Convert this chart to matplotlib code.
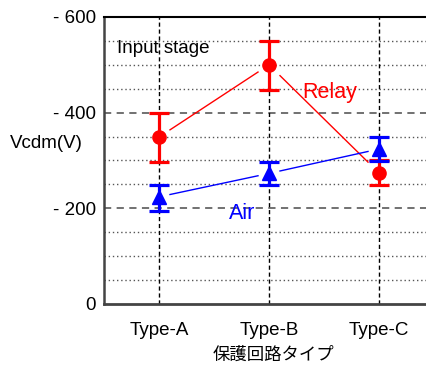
import matplotlib
matplotlib.use("Agg")
import matplotlib.pyplot as plt
import numpy as np

categories = ["Type-A", "Type-B", "Type-C"]
relay_vals = [349, 500, 274]
relay_lo = [297, 447, 249]
relay_hi = [400, 550, 300]
air_vals = [224, 273, 324]
air_lo = [195, 248, 299]
air_hi = [249, 297, 349]
ytick_vals = [0, 200, 400, 600]
ytick_labels = ["0", "- 200", "- 400", "- 600"]

plt.rcParams['font.family'] = ['Liberation Sans', 'DejaVu Sans']

fig = plt.figure(figsize=(4.27, 3.65), dpi=100)
ax = fig.add_axes([104/427, 61/365, 330/427, 287/365])

x = np.arange(len(categories))
ax.set_xlim(-0.5, 2.5)
ax.set_ylim(0, 600)

# grid
for yv in np.arange(50, 600, 50):
    if yv % 200 == 0:
        ax.axhline(yv, color='#666666', lw=1.3, ls=(0, (4, 3)), zorder=1)
    else:
        ax.axhline(yv, color='#555555', lw=1.0, ls=(0, (1, 2)), zorder=1)
for xv in x:
    ax.axvline(xv, color='black', lw=1.0, ls=(0, (3, 2)), zorder=1)


def gapped(xs, ys, col, frac=0.1):
    for i in range(len(xs) - 1):
        x0, x1 = xs[i], xs[i+1]
        y0, y1 = ys[i], ys[i+1]
        dx, dy = x1 - x0, y1 - y0
        ax.plot([x0 + frac*dx, x1 - frac*dx], [y0 + frac*dy, y1 - frac*dy],
                lw=1.0, zorder=2, color=col)


gapped(x, relay_vals, 'red')
gapped(x, air_vals, 'blue')

r = np.array(relay_vals)
ax.errorbar(x, r, yerr=[r - np.array(relay_lo), np.array(relay_hi) - r],
            fmt='o', color='red', ms=9.5, elinewidth=2.3, capsize=7, capthick=2.3,
            zorder=3)
a = np.array(air_vals)
ax.errorbar(x, a, yerr=[a - np.array(air_lo), np.array(air_hi) - a],
            fmt='^', color='blue', ms=9.5, elinewidth=2.3, capsize=7, capthick=2.3,
            zorder=3)

ax.set_xticks(x)
ax.set_xticklabels(categories, fontsize=13.5)
ax.set_yticks(ytick_vals)
ax.set_yticklabels(ytick_labels, fontsize=13.5)
ax.tick_params(axis='both', length=0)
ax.tick_params(axis='x', pad=13)
ax.tick_params(axis='y', pad=6)

ax.spines['right'].set_visible(False)
ax.spines['left'].set_color('#444444')
ax.spines['left'].set_linewidth(1.8)
ax.spines['top'].set_color('black')
ax.spines['top'].set_linewidth(1.5)
ax.spines['bottom'].set_color('#444444')
ax.spines['bottom'].set_linewidth(2.0)
ax.spines['bottom'].set_linestyle((0, (3, 1)))

ax.text(-0.38, 535, "Input stage", fontsize=13.5, color='black', va='center', ha='left')
ax.text(1.3, 442, "Relay", fontsize=15.5, color='red', va='center', ha='left')
ax.text(0.64, 190, "Air", fontsize=15.5, color='blue', va='center', ha='left')

fig.text(10/427, 1 - 143/365, "Vcdm(V)", fontsize=13.5, va='center', ha='left')
fig.text(273/427, 1 - 355/365, "保護回路タイプ", fontsize=12.5,
         family=['Noto Sans CJK JP', 'DejaVu Sans'], va='center', ha='center')

fig.savefig("out.png", dpi=100)
